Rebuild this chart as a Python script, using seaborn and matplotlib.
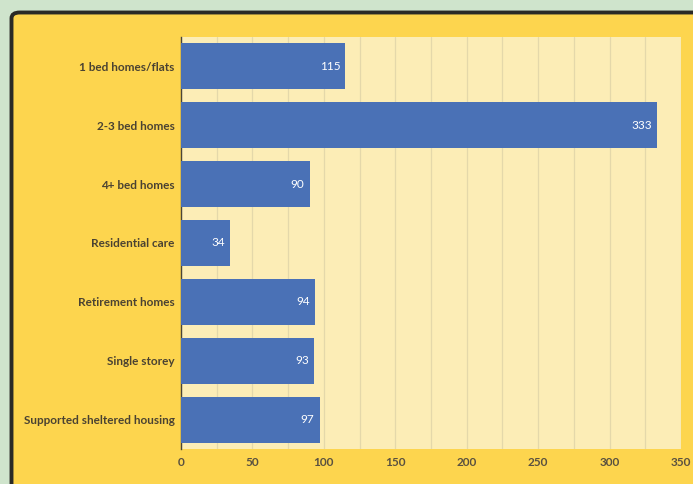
import matplotlib
matplotlib.use("Agg")
import matplotlib.pyplot as plt
from matplotlib.patches import FancyBboxPatch
from matplotlib.ticker import MultipleLocator
import seaborn as sns
import pandas as pd

categories = [
    "1 bed homes/flats",
    "2-3 bed homes",
    "4+ bed homes",
    "Residential care",
    "Retirement homes",
    "Single storey",
    "Supported sheltered housing",
]
values = [115, 333, 90, 34, 94, 93, 97]
x_ticks = [0, 50, 100, 150, 200, 250, 300, 350]

df = pd.DataFrame({"category": categories, "count": values})

sns.set_theme(style="white")
plt.rcParams["font.family"] = ["Lato", "DejaVu Sans"]

W, H = 693, 484
fig = plt.figure(figsize=(W / 100, H / 100), dpi=100)
fig.patch.set_facecolor("#cfe4cc")

# yellow panel with dark rounded border, running off the right and bottom edges
panel = FancyBboxPatch(
    (11.5 / W, -0.05), 1.1, 1 - 12.5 / H + 0.05,
    boxstyle="round,pad=0,rounding_size=0.012",
    transform=fig.transFigure, facecolor="#fdd54e",
    edgecolor="#2a2a26", linewidth=2.8, zorder=-5,
)
fig.patches.append(panel)

ax = fig.add_axes([181 / W, 1 - 449 / H, (681 - 181) / W, (449 - 37) / H])
ax.set_zorder(2)
ax.set_facecolor("#fcedb6")

sns.barplot(data=df, x="count", y="category", orient="h", color="#4a71b6",
            saturation=1, width=0.78, linewidth=0, edgecolor="none",
            ax=ax, zorder=3)

for patch, v in zip(ax.patches, values):
    ax.text(v - 3.5, patch.get_y() + patch.get_height() / 2, str(v),
            ha="right", va="center", color="white", fontsize=8.5, zorder=4)

ax.set_xlim(0, 350)
ax.set_ylim(6.5, -0.5)
ax.set_xticks(x_ticks)
ax.xaxis.set_minor_locator(MultipleLocator(25))
ax.grid(True, axis="x", which="both", color="#e4d8aa", linewidth=0.9, zorder=0)
ax.set_axisbelow(True)
ax.set_xlabel("")
ax.set_ylabel("")

for s in ["top", "right", "bottom"]:
    ax.spines[s].set_visible(False)
ax.spines["left"].set_color("#4a4538")
ax.spines["left"].set_linewidth(1.0)

ax.tick_params(axis="x", which="both", length=0, pad=6, labelsize=8.5,
               labelcolor="#5a5140")
ax.tick_params(axis="y", length=0, pad=4.5, labelsize=8.5, labelcolor="#4a4232")
for lab in ax.get_xticklabels() + ax.get_yticklabels():
    lab.set_fontweight("bold")

fig.savefig("out.png", dpi=100, facecolor=fig.get_facecolor())
